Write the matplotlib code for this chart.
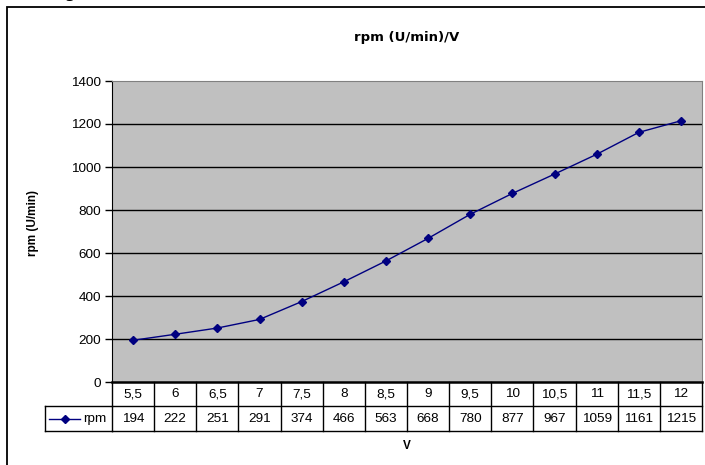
import matplotlib
matplotlib.use("Agg")
import matplotlib.pyplot as plt
from matplotlib import transforms
from matplotlib.lines import Line2D
from matplotlib.patches import Rectangle

volts = ["5,5", "6", "6,5", "7", "7,5", "8", "8,5", "9", "9,5", "10",
         "10,5", "11", "11,5", "12"]
rpm = [194, 222, 251, 291, 374, 466, 563, 668, 780, 877, 967, 1059, 1161, 1215]
y_ticks = [0, 200, 400, 600, 800, 1000, 1200, 1400]

W, H = 705, 465
plt.rcParams['font.family'] = ['Liberation Sans', 'DejaVu Sans']

fig = plt.figure(figsize=(W / 100, H / 100), dpi=100)


def fx(px):
    return px / W


def fy(py):
    return 1 - py / H


# outer chart frame (cut off on the right and bottom)
fig.patches.append(Rectangle((fx(7), fy(600)), fx(900) - fx(7), fy(7) - fy(600),
                             transform=fig.transFigure, fill=False,
                             edgecolor='black', linewidth=1.3, zorder=0))
# tail of a heading cut off at the top
fig.text(fx(70), fy(-2), "g", ha='center', va='baseline', fontsize=11,
         fontweight='bold', family='DejaVu Sans')

left, right, top, bottom = 112, 702, 81, 382
ax = fig.add_axes([fx(left), fy(bottom), fx(right) - fx(left), fy(top) - fy(bottom)])
ax.set_facecolor('#c0c0c0')

n = len(rpm)
x = list(range(n))
ax.plot(x, rpm, color='#000080', linewidth=1.0, marker='D', markersize=4.5,
        markerfacecolor='#000080', markeredgecolor='#000080', zorder=3)

ax.set_xlim(-0.5, n - 0.5)
ax.set_ylim(0, 1400)
ax.set_yticks(y_ticks)
ax.set_xticks([])
for t in y_ticks[1:-1]:
    ax.axhline(t, color='black', linewidth=1.0, zorder=1)

ax.spines['left'].set_color('black')
ax.spines['bottom'].set_color('black')
ax.spines['bottom'].set_linewidth(1.8)
ax.spines['top'].set_color('#808080')
ax.spines['right'].set_color('#808080')
ax.tick_params(axis='y', direction='out', length=5, width=1, labelsize=9.7,
               pad=3, color='black')

# data table under the plot
tr = transforms.blended_transform_factory(ax.transData, ax.transAxes)
ph = bottom - top
r1 = 24 / ph
r2 = 49 / ph
lk = dict(color='black', linewidth=1.0, transform=tr, clip_on=False)
ax.add_line(Line2D([-0.5, n - 0.5], [-r1, -r1], **lk))
ax.add_line(Line2D([-0.5, n - 0.5], [-r2, -r2], **lk))
for i in range(n + 1):
    ax.add_line(Line2D([i - 0.5, i - 0.5], [0, -r2], **lk))
for i, (v, r) in enumerate(zip(volts, rpm)):
    ax.text(i, -r1 / 2, v, transform=tr, ha='center', va='center', fontsize=9.7)
    ax.text(i, -(r1 + r2) / 2, str(r), transform=tr, ha='center', va='center',
            fontsize=9.7)

# legend cell of the table
fl = dict(transform=fig.transFigure, color='black', linewidth=1.0)
fig.lines.append(Line2D([fx(45), fx(left)], [fy(bottom + 24), fy(bottom + 24)], **fl))
fig.lines.append(Line2D([fx(45), fx(left)], [fy(bottom + 49), fy(bottom + 49)], **fl))
fig.lines.append(Line2D([fx(45), fx(45)], [fy(bottom + 24), fy(bottom + 49)], **fl))
ym = fy(bottom + 36.5)
fig.lines.append(Line2D([fx(49), fx(80)], [ym, ym], transform=fig.transFigure,
                        color='#000080', linewidth=1.0))
fig.lines.append(Line2D([fx(64.5)], [ym], transform=fig.transFigure, marker='D',
                        markersize=4.5, color='#000080', linestyle='none'))
fig.text(fx(83), ym, "rpm", ha='left', va='center', fontsize=9.7)

# titles
fig.text(fx(407), fy(37), "rpm (U/min)/V", ha='center', va='center',
         fontsize=9.5, fontweight='bold', family='DejaVu Sans')
fig.text(fx(33), fy(223), "rpm (U/min)", ha='center', va='center', rotation=90,
         fontsize=8.5, fontweight='bold')
fig.text(fx(407), fy(446), "V", ha='center', va='center', fontsize=8.5,
         fontweight='bold')

fig.savefig("out.png", dpi=100)
